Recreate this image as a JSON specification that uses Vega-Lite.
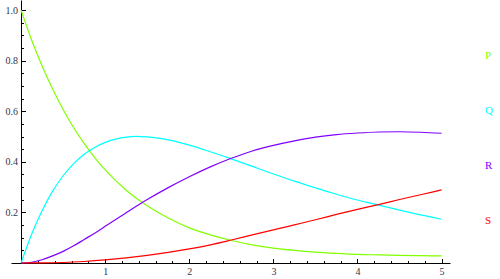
{
  "$schema": "https://vega.github.io/schema/vega-lite/v6.json",
  "width": 439,
  "height": 263,
  "autosize": "none",
  "padding": {"left": 11, "top": 0, "right": 50, "bottom": 16},
  "data": {"values": [
    {"t":0,"v":1.0,"s":"P"},{"t":0.125,"v":0.882,"s":"P"},{"t":0.25,"v":0.779,"s":"P"},{"t":0.375,"v":0.688,"s":"P"},{"t":0.5,"v":0.607,"s":"P"},{"t":0.625,"v":0.535,"s":"P"},{"t":0.75,"v":0.473,"s":"P"},{"t":0.875,"v":0.417,"s":"P"},{"t":1.0,"v":0.368,"s":"P"},{"t":1.25,"v":0.288,"s":"P"},{"t":1.5,"v":0.226,"s":"P"},{"t":1.75,"v":0.178,"s":"P"},{"t":2.0,"v":0.139,"s":"P"},{"t":2.25,"v":0.111,"s":"P"},{"t":2.5,"v":0.089,"s":"P"},{"t":2.75,"v":0.072,"s":"P"},{"t":3.0,"v":0.059,"s":"P"},{"t":3.25,"v":0.050,"s":"P"},{"t":3.5,"v":0.043,"s":"P"},{"t":3.75,"v":0.038,"s":"P"},{"t":4.0,"v":0.034,"s":"P"},{"t":4.25,"v":0.032,"s":"P"},{"t":4.5,"v":0.030,"s":"P"},{"t":4.75,"v":0.029,"s":"P"},{"t":5.0,"v":0.028,"s":"P"},
    {"t":0,"v":0,"s":"Q"},{"t":0.125,"v":0.114,"s":"Q"},{"t":0.25,"v":0.207,"s":"Q"},{"t":0.375,"v":0.284,"s":"Q"},{"t":0.5,"v":0.345,"s":"Q"},{"t":0.625,"v":0.393,"s":"Q"},{"t":0.75,"v":0.430,"s":"Q"},{"t":0.875,"v":0.457,"s":"Q"},{"t":1.0,"v":0.477,"s":"Q"},{"t":1.125,"v":0.490,"s":"Q"},{"t":1.25,"v":0.498,"s":"Q"},{"t":1.375,"v":0.501,"s":"Q"},{"t":1.5,"v":0.499,"s":"Q"},{"t":1.625,"v":0.494,"s":"Q"},{"t":1.75,"v":0.487,"s":"Q"},{"t":2.0,"v":0.466,"s":"Q"},{"t":2.25,"v":0.440,"s":"Q"},{"t":2.5,"v":0.412,"s":"Q"},{"t":2.75,"v":0.382,"s":"Q"},{"t":3.0,"v":0.352,"s":"Q"},{"t":3.25,"v":0.324,"s":"Q"},{"t":3.5,"v":0.297,"s":"Q"},{"t":3.75,"v":0.272,"s":"Q"},{"t":4.0,"v":0.249,"s":"Q"},{"t":4.25,"v":0.229,"s":"Q"},{"t":4.5,"v":0.209,"s":"Q"},{"t":4.75,"v":0.190,"s":"Q"},{"t":5.0,"v":0.173,"s":"Q"},
    {"t":0,"v":0,"s":"R"},{"t":0.125,"v":0.003,"s":"R"},{"t":0.25,"v":0.013,"s":"R"},{"t":0.375,"v":0.028,"s":"R"},{"t":0.5,"v":0.046,"s":"R"},{"t":0.625,"v":0.068,"s":"R"},{"t":0.75,"v":0.093,"s":"R"},{"t":0.875,"v":0.118,"s":"R"},{"t":1.0,"v":0.145,"s":"R"},{"t":1.25,"v":0.199,"s":"R"},{"t":1.5,"v":0.251,"s":"R"},{"t":1.75,"v":0.298,"s":"R"},{"t":2.0,"v":0.341,"s":"R"},{"t":2.25,"v":0.380,"s":"R"},{"t":2.5,"v":0.414,"s":"R"},{"t":2.75,"v":0.443,"s":"R"},{"t":3.0,"v":0.465,"s":"R"},{"t":3.25,"v":0.483,"s":"R"},{"t":3.5,"v":0.498,"s":"R"},{"t":3.75,"v":0.508,"s":"R"},{"t":4.0,"v":0.514,"s":"R"},{"t":4.25,"v":0.518,"s":"R"},{"t":4.5,"v":0.519,"s":"R"},{"t":4.75,"v":0.517,"s":"R"},{"t":5.0,"v":0.513,"s":"R"},
    {"t":0,"v":0,"s":"S"},{"t":0.25,"v":0.0003,"s":"S"},{"t":0.5,"v":0.002,"s":"S"},{"t":0.75,"v":0.006,"s":"S"},{"t":1.0,"v":0.012,"s":"S"},{"t":1.25,"v":0.020,"s":"S"},{"t":1.5,"v":0.030,"s":"S"},{"t":1.75,"v":0.042,"s":"S"},{"t":2.0,"v":0.056,"s":"S"},{"t":2.25,"v":0.072,"s":"S"},{"t":2.5,"v":0.091,"s":"S"},{"t":2.75,"v":0.111,"s":"S"},{"t":3.0,"v":0.131,"s":"S"},{"t":3.25,"v":0.151,"s":"S"},{"t":3.5,"v":0.171,"s":"S"},{"t":3.75,"v":0.192,"s":"S"},{"t":4.0,"v":0.212,"s":"S"},{"t":4.25,"v":0.231,"s":"S"},{"t":4.5,"v":0.251,"s":"S"},{"t":4.75,"v":0.270,"s":"S"},{"t":5.0,"v":0.289,"s":"S"}
  ]},
  "layer": [
    {
      "mark": {"type": "line", "interpolate": "monotone", "strokeWidth": 1.2, "clip": false},
      "encoding": {
        "x": {"field": "t", "type": "quantitative",
              "scale": {"domain": [-0.12, 5.1], "nice": false, "zero": false},
              "axis": {"orient": "bottom", "title": null, "values": [1,2,3,4,5], "format": "d", "tickSize": -4.5, "labelPadding": 8, "grid": false}},
        "y": {"field": "v", "type": "quantitative",
              "scale": {"domain": [0, 1.04], "nice": false},
              "axis": {"orient": "left", "title": null, "offset": -10, "values": [0.2,0.4,0.6,0.8,1.0], "format": ".1f", "tickSize": -4.5, "labelPadding": 8, "grid": false}},
        "color": {"field": "s", "type": "nominal",
                  "scale": {"domain": ["P","Q","R","S"], "range": ["#80ff00","#00ffff","#8000ff","#ff0000"]},
                  "legend": {"orient": "none", "legendX": 463, "legendY": 50, "title": null, "symbolOpacity": 0, "symbolSize": 0, "symbolStrokeWidth": 0, "labelOffset": 0, "rowPadding": 43, "labelFont": "Liberation Serif", "labelFontSize": 11,
                             "encode": {"labels": {"update": {"fill": {"scale": "color", "field": "value"}}}}}}
      }
    },
    {
      "mark": {"type": "point", "opacity": 0},
      "encoding": {
        "x": {"field": "t", "type": "quantitative",
              "axis": {"orient": "bottom", "title": null, "values": [0.2,0.4,0.6,0.8,1.2,1.4,1.6,1.8,2.2,2.4,2.6,2.8,3.2,3.4,3.6,3.8,4.2,4.4,4.6,4.8], "labels": false, "domain": false, "tickSize": -2.5, "grid": false}},
        "y": {"field": "v", "type": "quantitative",
              "axis": {"orient": "left", "title": null, "offset": -10, "values": [0.05,0.1,0.15,0.25,0.3,0.35,0.45,0.5,0.55,0.65,0.7,0.75,0.85,0.9,0.95,1.0], "labels": false, "domain": false, "tickSize": -2.5, "grid": false}}
      }
    }
  ],
  "resolve": {"axis": {"x": "independent", "y": "independent"}},
  "config": {
    "view": {"stroke": null},
    "axis": {"domainColor": "#000", "tickColor": "#000", "domainWidth": 1, "tickWidth": 1, "labelFont": "Liberation Serif", "labelFontSize": 10, "labelColor": "#333344"}
  }
}
